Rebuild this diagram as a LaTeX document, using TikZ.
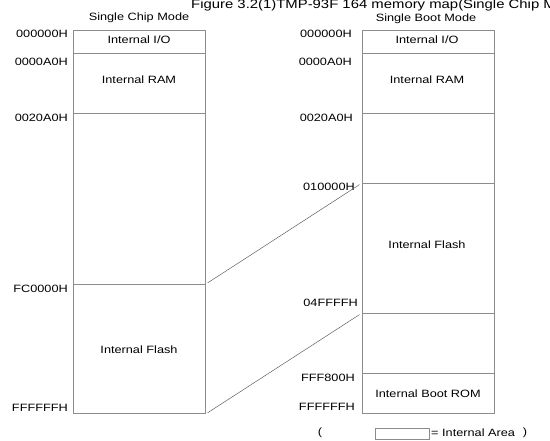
\documentclass[tikz,border=0pt]{standalone}
\usepackage{fontspec}
\setmainfont{Liberation Sans}[FakeStretch=1.2]
\definecolor{linegray}{HTML}{8C8C8C}
\definecolor{diaggray}{HTML}{606060}
\begin{document}
\begin{tikzpicture}[x=1pt,y=-1pt,
  font=\fontsize{10.6}{12}\selectfont,
  region/.style={draw=linegray, line width=0.9pt, minimum width=132pt, anchor=north west, inner sep=0pt},
  addr/.style={anchor=east, inner sep=0pt},
  txt/.style={inner sep=0pt},
  diag/.style={draw=diaggray, line width=0.5pt}]
\useasboundingbox (0,0) rectangle (550,441);
% title (top cut off)
\node[anchor=base west, inner sep=0pt, font=\fontsize{12.4}{14}\selectfont] (title) at (191,9) {Figure 3.2(1)TMP-93F 164 memory map(Single Chip Mode)};
\node[txt] (lmode) at (139,18) {Single Chip Mode};
\node[txt] (rmode) at (426,19) {Single Boot Mode};
% left map
\node[region, minimum height=23pt] (lio) at (73,30) {};
\node[region, minimum height=60pt] (lram) at (73,53) {};
\node[region, minimum height=171pt] (lempty) at (73,113) {};
\node[region, minimum height=129pt] (lflash) at (73,284) {};
\node[txt] (lioT) at (139,40) {Internal I/O};
\node[txt] (lramT) at (139,80) {Internal RAM};
\node[txt] (lflashT) at (139,350) {Internal Flash};
% right map
\node[region, minimum height=23pt] (rio) at (362,30) {};
\node[region, minimum height=60pt] (rram) at (362,53) {};
\node[region, minimum height=70pt] (rempty1) at (362,113) {};
\node[region, minimum height=130pt] (rflash) at (362,183) {};
\node[region, minimum height=60pt] (rempty2) at (362,313) {};
\node[region, minimum height=40pt] (rboot) at (362,373) {};
\node[txt] (rioT) at (427,40) {Internal I/O};
\node[txt] (rramT) at (427,80) {Internal RAM};
\node[txt] (rflashT) at (427,245) {Internal Flash};
\node[txt] (rbootT) at (428,394) {Internal Boot ROM};
% left addresses
\node[addr] (la1) at (68,34) {000000H};
\node[addr] (la2) at (68,62) {0000A0H};
\node[addr] (la3) at (68,118) {0020A0H};
\node[addr] (la4) at (68,289) {FC0000H};
\node[addr] (la5) at (68,408) {FFFFFFH};
% right addresses
\node[addr] (ra1) at (352,34) {000000H};
\node[addr] (ra2) at (352,62) {0000A0H};
\node[addr] (ra3) at (353,118) {0020A0H};
\node[addr] (ra4) at (355,187) {010000H};
\node[addr] (ra5) at (358,303) {04FFFFH};
\node[addr] (ra6) at (355,378) {FFF800H};
\node[addr] (ra7) at (355,407) {FFFFFFH};
% mapping lines
\draw[diag, shorten <=2pt, shorten >=3pt] (lflash.north east) -- (rflash.north west);
\draw[diag, shorten <=2pt, shorten >=3pt] (lflash.south east) -- (rempty2.north west);
% legend
\node[txt] (lpar) at (320,433) {(};
\node[draw=linegray, line width=0.9pt, minimum width=54pt, minimum height=11pt, inner sep=0pt] (lbox) at (402,433.5) {};
\node[txt, anchor=west] (ltext) at (431,433) {= Internal Area};
\node[txt] (rpar) at (525,433) {)};
\end{tikzpicture}
\end{document}
